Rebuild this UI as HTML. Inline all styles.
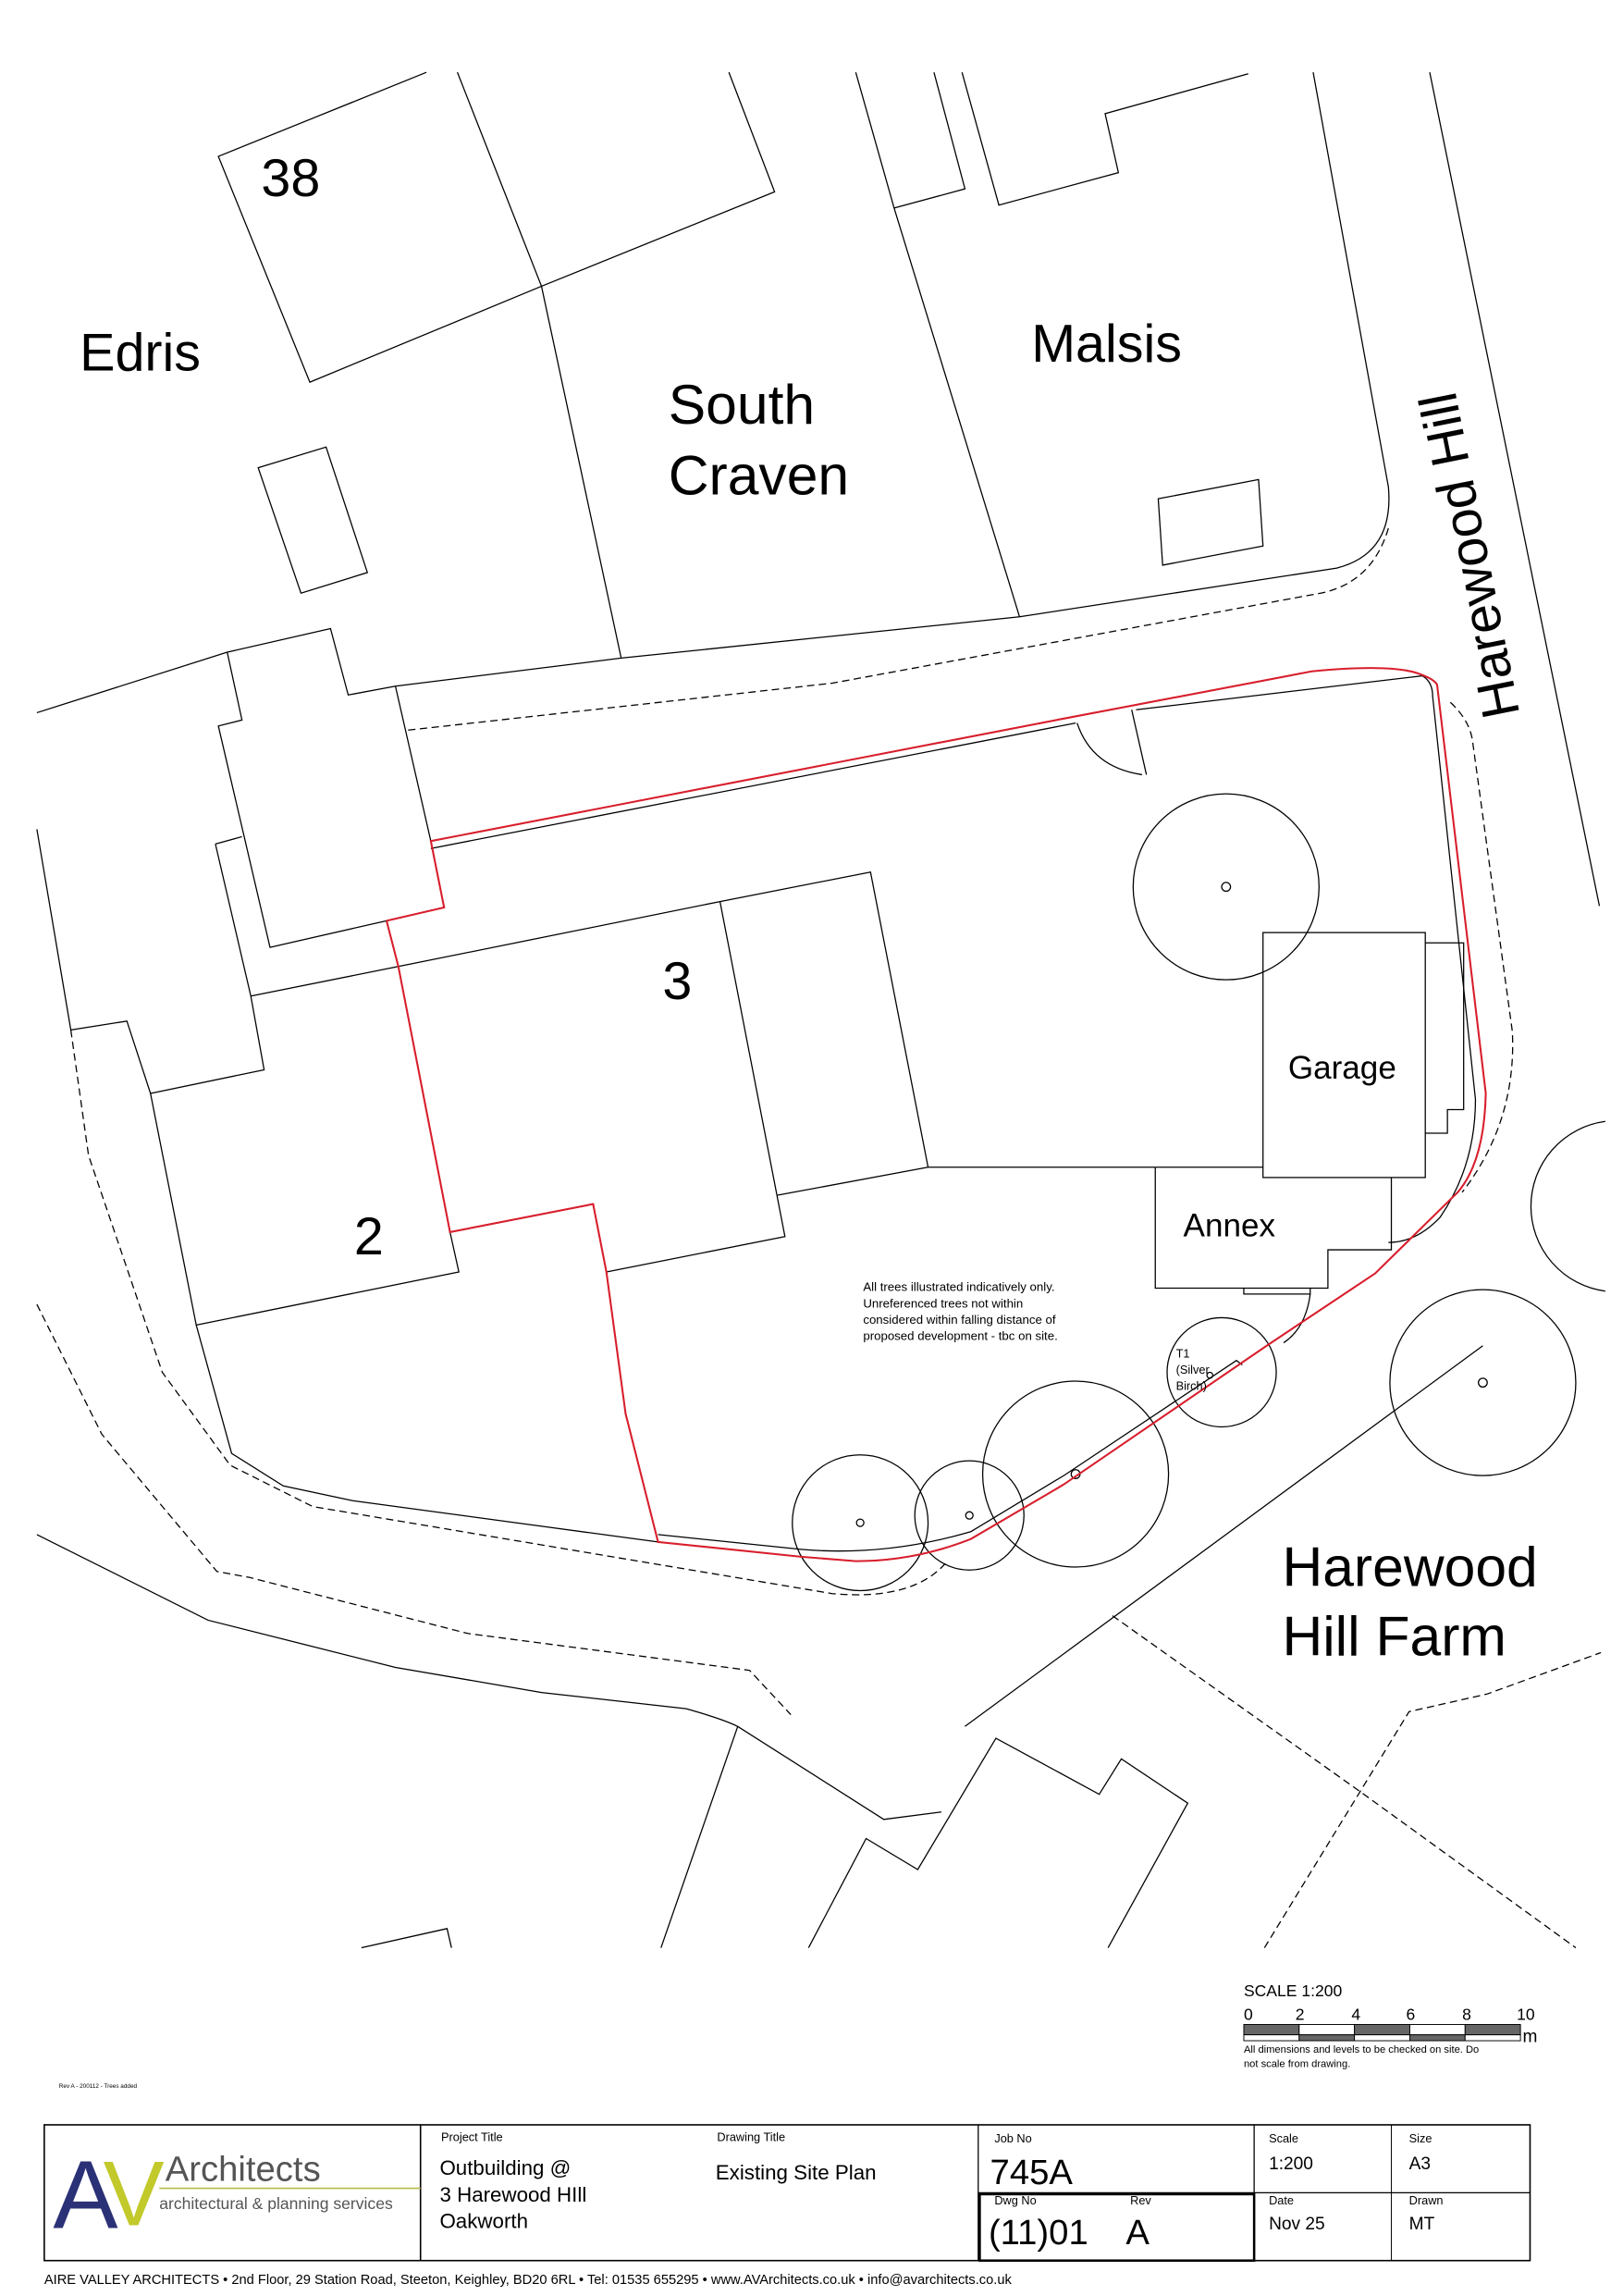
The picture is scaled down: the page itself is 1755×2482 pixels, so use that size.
<!DOCTYPE html>
<html><head><meta charset="utf-8"><style>
html,body{margin:0;padding:0;background:#fff}
svg{display:block}
text{font-family:"Liberation Sans",Arial,sans-serif;fill:#000}
</style></head><body>
<svg width="1755" height="2482" viewBox="0 0 1100 1556" preserveAspectRatio="none" xmlns="http://www.w3.org/2000/svg">
<g fill="none" stroke="#000" stroke-width="0.8">
<path d="M289,49 L148,106 L210,259 L367,194 L525,130 L494,49"/>
<path d="M310,49 L367,194 L421,446"/>
<path d="M580,49 L606,141 L691,418"/>
<path d="M606,141 L654,128 L633,49"/>
<path d="M652,49 L677,139 L758,117 L749,77 L846,50"/>
<path d="M175,317 L221,303 L249,388 L204,402 Z"/>
<path d="M785,338 L853,325 L856,370 L788,383 Z"/>
<path d="M890,49 L941,330 Q945,375 906,385 L691,418 L421,446 L268,465"/>
<path d="M969,49 L1084,614"/>
<path d="M941,358 Q930,395 895,402 L564,463 L275,495" stroke-dasharray="5,3"/>
<path d="M25,483 L154,442 L224,426 L236,471 L268,465"/>
<path d="M154,442 L164,488 L148,492 L183,642 L262,624"/>
<path d="M301,615 L292,570 L268,465"/>
<path d="M146,572 L164,567"/>
<path d="M146,572 L170,675 L179,725 L102,741 L86,692 L48,698 L25,562"/>
<path d="M170,675 L270,655 L488,611 L590,591 L629,791 L783,791"/>
<path d="M262,624 L270,655 L305,835"/>
<path d="M102,741 L133,898 L311,862 L305,835"/>
<path d="M488,611 L532,838 L411,862"/>
<path d="M527,810 L629,791"/>
<path d="M133,898 L157,985 L192,1007 L239,1017 L446,1045"/>
<path d="M446,1040 L543,1050 Q600,1055 658,1038 L721,1000 L838,922 L842,925"/>
<path d="M292,575 L729,490"/>
<path d="M770,481 L964,458 Q971,462 971,472 L1000,745 Q1000,790 976,825 Q960,842 941,842"/>
<path d="M767,481 L777,525 M730,490 Q740,520 774,525"/>
<rect x="856" y="632" width="110" height="166"/>
<path d="M966,639 L992,639 L992,752 L981,752 L981,768 L966,768"/>
<path d="M783,791 L856,791 M783,791 L783,873 L900,873 L900,847 L943,847 L943,798"/>
<path d="M843,873 L843,877 L888,877 L888,873"/>
<path d="M888,877 Q885,900 870,910"/>
<path d="M48,698 L60,783 L110,930 L156,993 L212,1021 L564,1080 Q620,1085 642,1058" stroke-dasharray="5,3"/>
<path d="M25,884 L69,972 L147,1065 L169,1069 L317,1107 L508,1132 L536,1162" stroke-dasharray="5,3"/>
<path d="M25,1040 L141,1098 L268,1130 L367,1147 L465,1158 Q490,1165 500,1170 L599,1233 L638,1228"/>
<path d="M500,1170 L448,1320"/>
<path d="M548,1320 L587,1246 L622,1267 L675,1178 L745,1216 L760,1192 L805,1222 L751,1320"/>
<path d="M245,1320 L303,1307 L306,1320"/>
<path d="M654,1170 L1005,912"/>
<path d="M754,1095 L923,1215 L1068,1320" stroke-dasharray="5,3"/>
<path d="M857,1320 L955,1160 L1008,1148 L1085,1120" stroke-dasharray="5,3"/>
<path d="M983,476 Q996,488 998,502 L1025,699 Q1028,760 991,808" stroke-dasharray="5,3"/>
<circle cx="831" cy="601" r="63"/><circle cx="831" cy="601" r="3"/>
<circle cx="1005" cy="937" r="63"/><circle cx="1005" cy="937" r="3"/>
<circle cx="583" cy="1032" r="46"/><circle cx="583" cy="1032" r="2.5"/>
<circle cx="657" cy="1027" r="37"/><circle cx="657" cy="1027" r="2.5"/>
<circle cx="729" cy="999" r="63"/><circle cx="729" cy="999" r="3"/>
<circle cx="828" cy="930" r="37"/><circle cx="820" cy="932" r="2"/>
<path d="M1088,760 A58,58 0 0 0 1088,875"/>
</g>
<g fill="none" stroke="#d81e2c" stroke-width="1.3">
<path d="M262,624 L301,615 L292,570 L721,487 L889,455 Q940,450 960,456 Q972,460 974,464 L1007,741 Q1006,787 988,808 L932,863 L857,913 L721,1006 L658,1043 Q620,1058 580,1058 L543,1055 L446,1045 L424,958 L411,862 L402,816 L305,835 L270,655 L262,624"/>
</g>
<text x="177" y="133" font-size="36">38</text>
<text x="54" y="251" font-size="36">Edris</text>
<text x="453" y="287" font-size="38">South</text>
<text x="453" y="335" font-size="38">Craven</text>
<text x="699" y="245" font-size="36">Malsis</text>
<text transform="translate(1030,484) rotate(-101.3)" font-size="36">Harewood Hill</text>
<text x="449" y="677" font-size="36">3</text>
<text x="240" y="850" font-size="36">2</text>
<text x="873" y="731" font-size="22">Garage</text>
<text x="802" y="838" font-size="22">Annex</text>
<g font-size="8.3"><text x="585" y="875">All trees illustrated indicatively only.</text><text x="585" y="886">Unreferenced trees not within</text><text x="585" y="897">considered within falling distance of</text><text x="585" y="908">proposed development - tbc on site.</text></g>
<g font-size="8"><text x="797" y="920">T1</text><text x="797" y="931">(Silver</text><text x="797" y="942">Birch)</text></g>
<text x="869" y="1075" font-size="38">Harewood</text>
<text x="869" y="1122" font-size="38">Hill Farm</text>
<text x="843" y="1353" font-size="11">SCALE 1:200</text>
<g font-size="11"><text x="843" y="1369">0</text><text x="878" y="1369">2</text><text x="916" y="1369">4</text><text x="953" y="1369">6</text><text x="991" y="1369">8</text><text x="1028" y="1369">10</text></g>
<g stroke="#000" stroke-width="0.6">
<rect x="843" y="1372" width="37.5" height="7" fill="#666"/><rect x="880.5" y="1372" width="37.5" height="7" fill="#fff"/><rect x="918" y="1372" width="37.5" height="7" fill="#666"/><rect x="955.5" y="1372" width="37.5" height="7" fill="#fff"/><rect x="993" y="1372" width="37.5" height="7" fill="#666"/>
<rect x="843" y="1379" width="37.5" height="4" fill="#fff"/><rect x="880.5" y="1379" width="37.5" height="4" fill="#666"/><rect x="918" y="1379" width="37.5" height="4" fill="#fff"/><rect x="955.5" y="1379" width="37.5" height="4" fill="#666"/><rect x="993" y="1379" width="37.5" height="4" fill="#fff"/>
</g>
<text x="1032" y="1384" font-size="12">m</text>
<text x="843" y="1391" font-size="7">All dimensions and levels to be checked on site. Do</text>
<text x="843" y="1401" font-size="7">not scale from drawing.</text>
<text x="40" y="1415" font-size="4">Rev A - 200112 - Trees added</text>
<g fill="none" stroke="#000">
<rect x="30" y="1440" width="1007" height="92" stroke-width="1"/>
<line x1="285" y1="1440" x2="285" y2="1532" stroke-width="1"/>
<line x1="663" y1="1440" x2="663" y2="1532" stroke-width="0.8"/>
<line x1="850" y1="1440" x2="850" y2="1532" stroke-width="0.8"/>
<line x1="943" y1="1440" x2="943" y2="1532" stroke-width="0.6"/>
<line x1="663" y1="1486" x2="1037" y2="1486" stroke-width="0.8"/>
<rect x="664" y="1487" width="186" height="45" stroke-width="1.6"/>
</g>
<g font-size="8" fill="#333"><text x="299" y="1451">Project Title</text><text x="486" y="1451">Drawing Title</text><text x="674" y="1452">Job No</text><text x="674" y="1494">Dwg No</text><text x="766" y="1494">Rev</text><text x="860" y="1452">Scale</text><text x="955" y="1452">Size</text><text x="860" y="1494">Date</text><text x="955" y="1494">Drawn</text></g>
<g font-size="14"><text x="298" y="1474">Outbuilding @</text><text x="298" y="1492">3 Harewood HIll</text><text x="298" y="1510">Oakworth</text><text x="485" y="1477">Existing Site Plan</text></g>
<text x="671" y="1480" font-size="24">745A</text>
<text x="670" y="1521" font-size="24">(11)01</text>
<text x="763" y="1521" font-size="24">A</text>
<g font-size="12"><text x="860" y="1470">1:200</text><text x="955" y="1470">A3</text><text x="860" y="1511">Nov 25</text><text x="955" y="1511">MT</text></g>
<text x="36" y="1510" font-size="66" style="fill:#2b3176">A</text>
<text x="70" y="1508" font-size="62" style="fill:#c2c92a">V</text>
<text x="112" y="1478" font-size="24" style="fill:#555">Architects</text>
<line x1="108" y1="1483" x2="285" y2="1483" stroke="#b5ba4a" stroke-width="1"/>
<text x="108" y="1497" font-size="11" style="fill:#555">architectural &amp; planning services</text>
<text x="30" y="1548" font-size="9.2">AIRE VALLEY ARCHITECTS  •  2nd Floor, 29 Station Road, Steeton, Keighley, BD20 6RL  •  Tel: 01535 655295  •  www.AVArchitects.co.uk  •  info@avarchitects.co.uk</text>
</svg>
</body></html>
